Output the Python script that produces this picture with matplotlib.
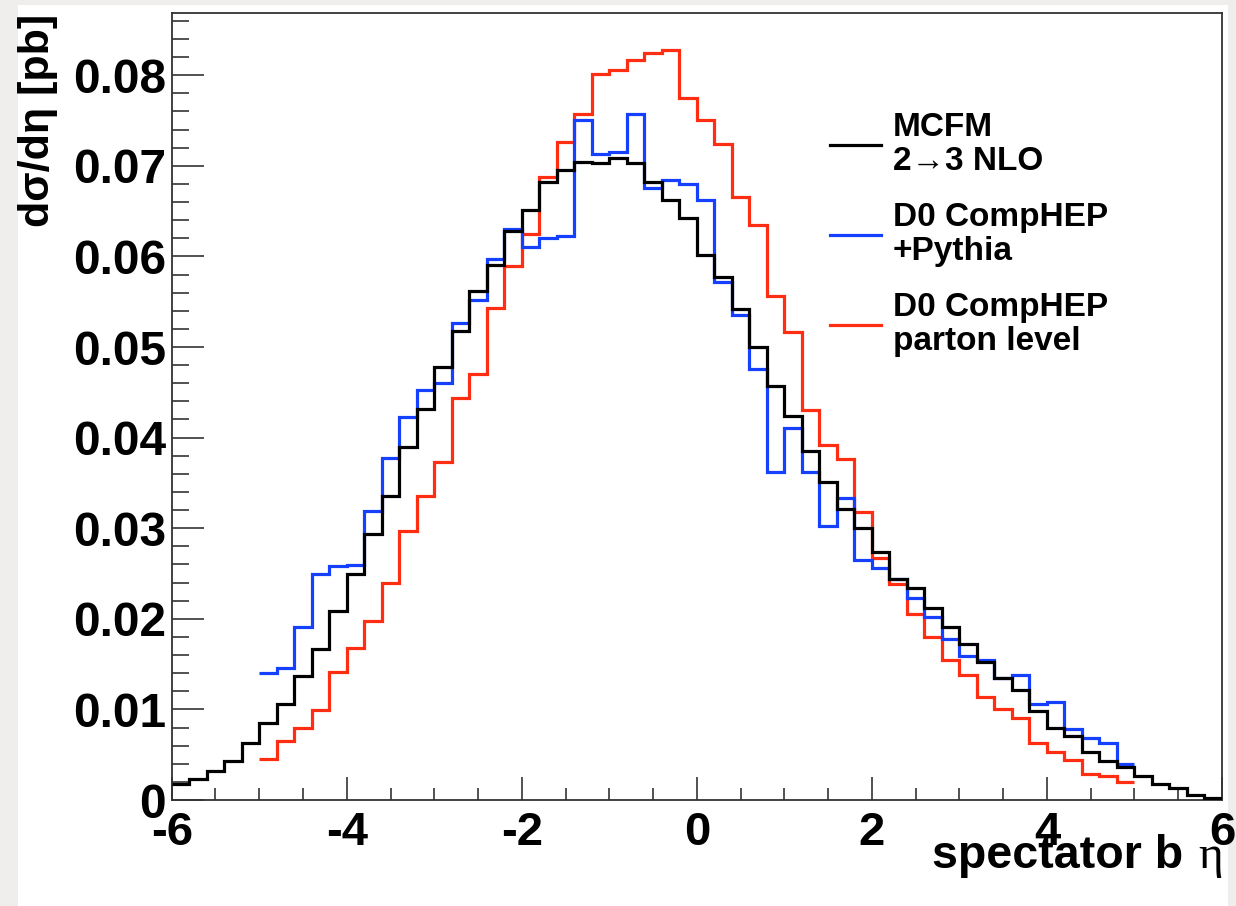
import numpy as np
import matplotlib
matplotlib.use("Agg")
import matplotlib.pyplot as plt
from matplotlib.patches import Rectangle
from matplotlib.ticker import MultipleLocator, FuncFormatter

# ---------------- data ----------------
# MCFM 2->3 NLO : 60 bins of width 0.2 from -6 to 6
mcfm_vals = [0.00173, 0.00232, 0.00324, 0.0043, 0.0063, 0.0085, 0.01056, 0.01369, 0.0167, 0.0209,
             0.0249, 0.0294, 0.0336, 0.0390, 0.0432, 0.0478, 0.0518, 0.0562, 0.0590, 0.0628,
             0.0651, 0.0682, 0.0695, 0.0704, 0.0703, 0.0709, 0.0703, 0.0682, 0.0662, 0.0642,
             0.0602, 0.0577, 0.0542, 0.0500, 0.0457, 0.0424, 0.0385, 0.0351, 0.0321, 0.0300,
             0.0274, 0.0244, 0.0234, 0.0212, 0.0191, 0.0172, 0.0152, 0.0135, 0.0121, 0.0098,
             0.0080, 0.0071, 0.0053, 0.0043, 0.0036, 0.0026, 0.0018, 0.0013, 0.0006, 0.0002]
mcfm_range = (-6.0, 6.0)

# D0 CompHEP + Pythia : 50 bins of width 0.2 from -5 to 5
pythia_vals = [0.01398, 0.01453, 0.0191, 0.0249, 0.0258, 0.0259, 0.0319, 0.0378, 0.0423, 0.0453,
               0.0460, 0.0527, 0.0552, 0.0597, 0.0630, 0.0610, 0.0620, 0.0623, 0.0751, 0.0713,
               0.0715, 0.0757, 0.0676, 0.0684, 0.0680, 0.0662, 0.0572, 0.0535, 0.0476, 0.0362,
               0.0411, 0.0362, 0.0302, 0.0333, 0.0265, 0.0256, 0.0244, 0.0223, 0.0202, 0.0178,
               0.0159, 0.0155, 0.0135, 0.0138, 0.0106, 0.0108, 0.0078, 0.0068, 0.0063, 0.0040]
pythia_range = (-5.0, 5.0)

# D0 CompHEP parton level : 50 bins of width 0.2 from -5 to 5
parton_vals = [0.00453, 0.0065, 0.0080, 0.00993, 0.01413, 0.01674, 0.01976, 0.0240, 0.0297, 0.0336,
               0.0373, 0.0444, 0.0470, 0.0543, 0.0589, 0.0625, 0.0688, 0.0726, 0.0757, 0.0801,
               0.0806, 0.0817, 0.0825, 0.0828, 0.0775, 0.0751, 0.0724, 0.0666, 0.0635, 0.0556,
               0.0517, 0.0430, 0.0392, 0.0376, 0.0318, 0.0267, 0.0238, 0.0205, 0.0180, 0.0155,
               0.0138, 0.0114, 0.0100, 0.0091, 0.0063, 0.0053, 0.0044, 0.0029, 0.0027, 0.0020]
parton_range = (-5.0, 5.0)

labels = ["MCFM\n2\u21923 NLO", "D0 CompHEP\n+Pythia", "D0 CompHEP\nparton level"]
x_title = "spectator b"
x_title_sym = "\u03b7"
y_title = "d\u03c3/d\u03b7 [pb]"

# ---------------- style ----------------
C_BLACK = "#000000"
C_BLUE = "#1540ff"
C_RED = "#ff2d12"
SANS = ["Liberation Sans", "DejaVu Sans"]

W, H = 1236, 906
fig = plt.figure(figsize=(W / 100, H / 100), dpi=100)
fig.patch.set_facecolor("#efeeec")
fig.add_artist(Rectangle((18 / W, 0), (1228 - 18) / W, 1 - 5 / H, transform=fig.transFigure,
                         facecolor="white", edgecolor="none", zorder=0))

ax = fig.add_axes([171.7 / W, 1 - 800 / H, (1222 - 171.7) / W, (800 - 12.7) / H])
ax.set_facecolor("white")


def edges(rng, n):
    return np.linspace(rng[0], rng[1], n + 1)


lw = 2.3
ax.stairs(mcfm_vals, edges(mcfm_range, len(mcfm_vals)), baseline=None, color=C_BLACK, lw=lw,
          label=labels[0], zorder=4)
ax.stairs(pythia_vals, edges(pythia_range, len(pythia_vals)), baseline=None, color=C_BLUE, lw=lw,
          label=labels[1], zorder=3)
ax.stairs(parton_vals, edges(parton_range, len(parton_vals)), baseline=None, color=C_RED, lw=lw,
          label=labels[2], zorder=2)

ax.set_xlim(-6, 6)
ax.set_ylim(0, 0.0869)

ax.xaxis.set_major_locator(MultipleLocator(2))
ax.xaxis.set_minor_locator(MultipleLocator(0.5))
ax.yaxis.set_major_locator(MultipleLocator(0.01))
ax.yaxis.set_minor_locator(MultipleLocator(0.002))
ax.xaxis.set_major_formatter(FuncFormatter(lambda v, p: "%d" % round(v)))
ax.yaxis.set_major_formatter(FuncFormatter(lambda v, p: "0" if abs(v) < 1e-9 else ("%.2f" % v)))

for s in ax.spines.values():
    s.set_color("#333333")
    s.set_linewidth(1.3)

ax.tick_params(axis="x", which="major", direction="in", length=16.5, width=1.2, color="#333333",
               pad=8, labelsize=34)
ax.tick_params(axis="x", which="minor", direction="in", length=9, width=1.2, color="#333333")
ax.tick_params(axis="y", which="major", direction="in", length=23, width=1.2, color="#333333",
               pad=4, labelsize=34.5)
ax.tick_params(axis="y", which="minor", direction="in", length=12, width=1.2, color="#333333")
for t in ax.get_xticklabels() + ax.get_yticklabels():
    t.set_fontfamily(SANS)
    t.set_fontweight("bold")

# axis titles
fig.text(1223 / W, 1 - 868 / H, x_title_sym, ha="right", va="baseline", fontsize=34,
         family=["Liberation Serif", "DejaVu Serif"], fontweight="normal")
fig.text(1183 / W, 1 - 868 / H, x_title, ha="right", va="baseline", fontsize=33.5,
         family=SANS, fontweight="bold")
fig.text(18 / W, 1 - 14 / H, y_title, ha="right", va="top", rotation=90, fontsize=31,
         family=SANS, fontweight="bold", rotation_mode="anchor")

leg = ax.legend(loc="upper left", bbox_to_anchor=(830 / W, 1 - 112 / H), bbox_transform=fig.transFigure,
                frameon=False, handlelength=1.53, handletextpad=0.35, labelspacing=0.76,
                borderpad=0, borderaxespad=0,
                prop={"family": SANS, "weight": "bold", "size": 24})
for h in leg.legend_handles:
    h.set_linewidth(2.3)
for t in leg.get_texts():
    t.set_linespacing(1.12)

fig.savefig("out.png", dpi=100, facecolor=fig.get_facecolor())
